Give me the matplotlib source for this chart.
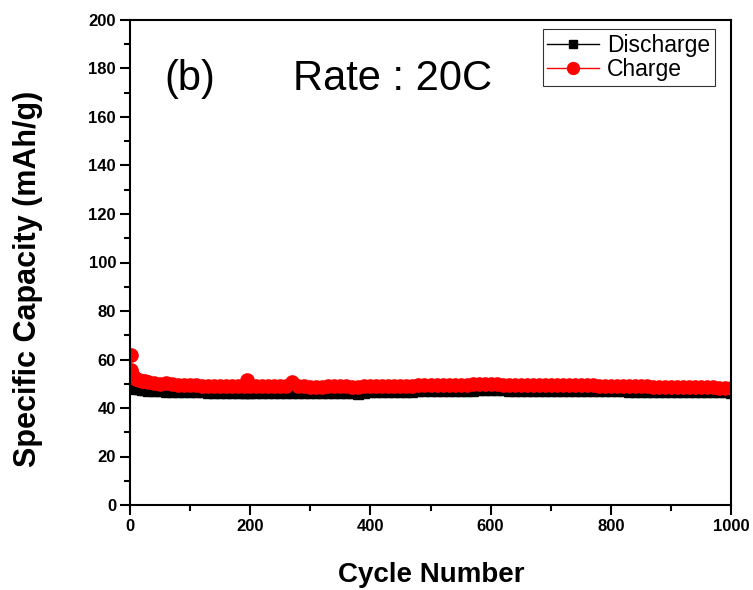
import matplotlib.pyplot as plt
from matplotlib.ticker import MultipleLocator

plt.rcParams['font.family'] = ['Liberation Sans', 'DejaVu Sans']

# cycle numbers where points are shown
cycles = [1, 2, 3, 5, 8, 10, 15, 20, 25, 30, 40, 50, 60, 70, 80, 90, 100,
          110, 120, 130, 140, 150, 160, 170, 180, 190, 195, 200, 210, 220, 230,
          240, 250, 260, 270, 280, 290, 300, 310, 320, 330, 340, 350, 360, 370,
          380, 390, 400, 410, 420, 430, 440, 450, 460, 470, 480, 490, 500, 510,
          520, 530, 540, 550, 560, 570, 580, 590, 600, 610, 620, 630, 640, 650,
          660, 670, 680, 690, 700, 710, 720, 730, 740, 750, 760, 770, 780, 790,
          800, 810, 820, 830, 840, 850, 860, 870, 880, 890, 900, 910, 920, 930,
          940, 950, 960, 970, 980, 990, 1000]

charge = [62.0, 55.5, 54.0, 53.0, 52.5, 52.0, 51.6, 51.2, 51.0, 50.7, 50.4, 50.1,
          50.3, 49.8, 49.6, 49.5, 49.4, 49.3, 49.2, 49.1, 49.1, 49.0, 49.0, 49.0,
          49.0, 49.0, 51.5, 49.0, 49.0, 49.0, 49.0, 49.0, 49.0, 49.0, 50.8, 49.0,
          48.9, 48.8, 48.8, 48.8, 48.9, 49.0, 49.2, 49.0, 48.8, 48.6, 48.9, 49.1,
          49.1, 49.1, 49.1, 49.2, 49.2, 49.2, 49.2, 49.3, 49.3, 49.3, 49.4, 49.4,
          49.4, 49.5, 49.5, 49.6, 49.7, 49.7, 49.7, 49.7, 49.7, 49.6, 49.6, 49.6,
          49.6, 49.5, 49.5, 49.5, 49.5, 49.5, 49.5, 49.4, 49.4, 49.4, 49.3, 49.3,
          49.3, 49.2, 49.2, 49.2, 49.1, 49.1, 49.0, 49.0, 48.9, 48.9, 48.8, 48.8,
          48.8, 48.7, 48.7, 48.6, 48.6, 48.6, 48.5, 48.5, 48.5, 48.4, 48.4, 48.4]

discharge = [50.5, 49.5, 49.0, 48.6, 48.3, 48.0, 47.8, 47.5, 47.3, 47.2, 47.0,
             46.9, 46.8, 46.7, 46.6, 46.6, 46.5, 46.4, 46.4, 46.3, 46.3, 46.2,
             46.2, 46.2, 46.2, 46.2, 46.3, 46.2, 46.2, 46.2, 46.2, 46.2, 46.2,
             46.2, 46.3, 46.2, 46.2, 46.1, 46.1, 46.1, 46.1, 46.2, 46.3, 46.2,
             46.0, 45.9, 46.2, 46.5, 46.6, 46.6, 46.7, 46.7, 46.8, 46.8, 46.8,
             46.9, 46.9, 47.0, 47.0, 47.0, 47.1, 47.1, 47.1, 47.2, 47.2, 47.3,
             47.3, 47.3, 47.3, 47.3, 47.2, 47.2, 47.2, 47.2, 47.2, 47.2, 47.2,
             47.1, 47.1, 47.1, 47.1, 47.0, 47.0, 47.0, 47.0, 47.0, 46.9, 46.9,
             46.9, 46.9, 46.8, 46.8, 46.8, 46.8, 46.7, 46.7, 46.7, 46.6, 46.6,
             46.6, 46.5, 46.5, 46.5, 46.5, 46.4, 46.4, 46.4, 46.3]

fig = plt.figure(figsize=(7.53, 5.90), dpi=100)
ax = fig.add_axes([130 / 753, 85 / 590, 601 / 753, 485 / 590])

ax.plot(cycles, discharge, color='black', lw=1, marker='s', markersize=7,
        label='Discharge')
ax.plot(cycles, charge, color='red', lw=1, marker='o', markersize=9.5,
        label='Charge')

ax.set_xlim(0, 1000)
ax.set_ylim(0, 200)
ax.xaxis.set_major_locator(MultipleLocator(200))
ax.xaxis.set_minor_locator(MultipleLocator(100))
ax.yaxis.set_major_locator(MultipleLocator(20))
ax.yaxis.set_minor_locator(MultipleLocator(10))
ax.tick_params(which='major', direction='out', length=7, width=1.5,
               labelsize=12, pad=3)
ax.tick_params(which='minor', direction='out', length=4, width=1.5)
for lab in ax.get_xticklabels() + ax.get_yticklabels():
    lab.set_fontweight('bold')
for sp in ax.spines.values():
    sp.set_linewidth(1.5)

fig.text(431.5 / 753, 1 - 581.7 / 590, 'Cycle Number', fontsize=20,
         fontweight='bold', ha='center', va='baseline')
fig.text(28 / 753, 1 - 279 / 590, 'Specific Capacity (mAh/g)', fontsize=22,
         fontweight='bold', rotation=90, ha='center', va='center')

ax.text(0.058, 0.856, '(b)', transform=ax.transAxes, fontsize=30,
        va='baseline')
ax.text(0.271, 0.856, 'Rate : 20C', transform=ax.transAxes, fontsize=30,
        va='baseline')

leg = ax.legend(loc='upper right', bbox_to_anchor=(0.973, 0.981),
                fontsize=16.5, frameon=True, fancybox=False,
                edgecolor='black', borderpad=0.2, handlelength=2.25,
                handletextpad=0.35, labelspacing=0.05, markerscale=0.9,
                borderaxespad=0)
leg.get_frame().set_linewidth(0.8)

fig.savefig('out.png', dpi=100)
